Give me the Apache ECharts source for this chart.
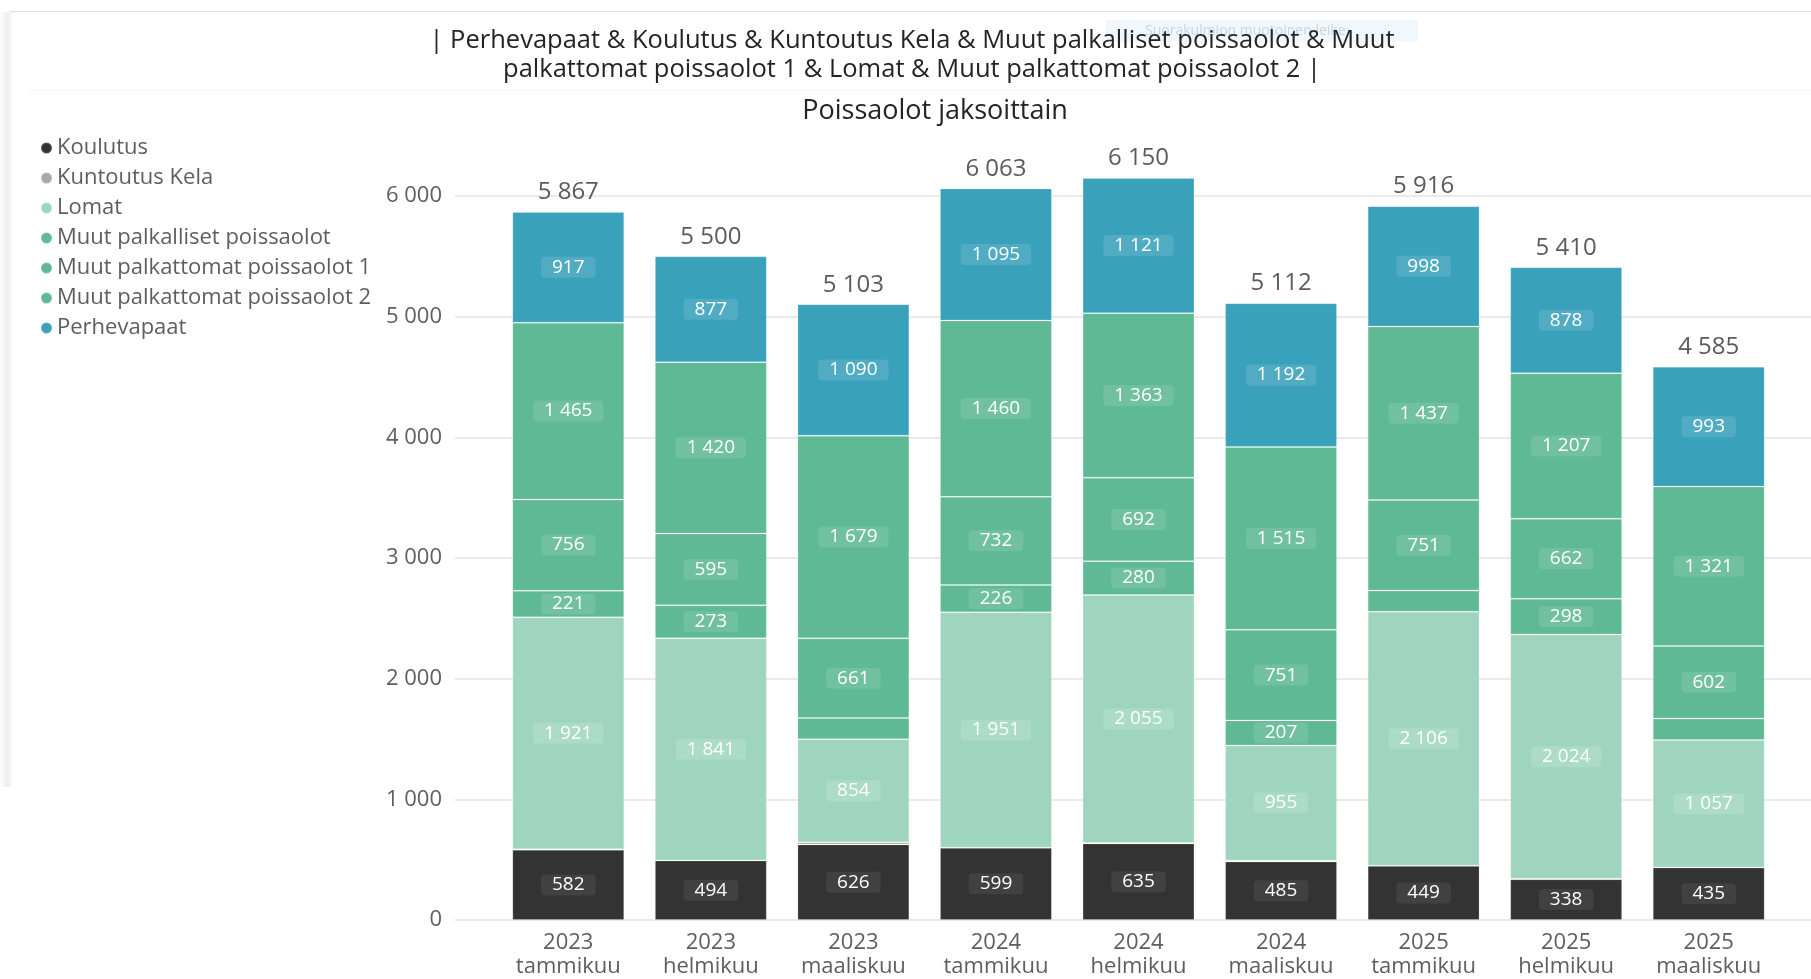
<!DOCTYPE html>
<html>
<head>
<meta charset="utf-8">
<script src="https://cdn.jsdelivr.net/npm/echarts@6/dist/echarts.min.js"></script>
<style>
  html, body { margin: 0; padding: 0; background: #fff; }
  #main { width: 1811px; height: 979px; }
</style>
</head>
<body>
<div id="main"></div>
<script>
// data
var categories = ['2023\ntammikuu', '2023\nhelmikuu', '2023\nmaaliskuu',
                  '2024\ntammikuu', '2024\nhelmikuu', '2024\nmaaliskuu',
                  '2025\ntammikuu', '2025\nhelmikuu', '2025\nmaaliskuu'];
var koulutus     = [582, 494, 626, 599, 635, 485, 449, 338, 435];
var kuntoutus    = [5, 0, 18, 0, 4, 7, 0, 3, 0];
var lomat        = [1921, 1841, 854, 1951, 2055, 955, 2106, 2024, 1057];
var palkalliset  = [221, 273, 175, 226, 280, 207, 175, 298, 177];
var palkattomat1 = [756, 595, 661, 732, 692, 751, 751, 662, 602];
var palkattomat2 = [1465, 1420, 1679, 1460, 1363, 1515, 1437, 1207, 1321];
var perhevapaat  = [917, 877, 1090, 1095, 1121, 1192, 998, 878, 993];
var totals       = [5867, 5500, 5103, 6063, 6150, 5112, 5916, 5410, 4585];
var yTicks       = [0, 1000, 2000, 3000, 4000, 5000, 6000];

var FONT = "'Open Sans', 'Noto Sans', sans-serif";

function fmt(v) {
    return String(v).replace(/\B(?=(\d{3})+(?!\d))/g, ' ');
}

var myChart = echarts.init(document.getElementById('main'));

// one stacked bar series
function stackSeries(name, values, color, labelBg, minShow) {
    return {
        name: name,
        type: 'bar',
        stack: 'all',
        xAxisIndex: 0,
        yAxisIndex: 0,
        clip: false,
        barCategoryGap: '21.5%',
        itemStyle: { color: color, borderColor: 'rgba(255,255,255,0.18)', borderWidth: 1 },
        label: {
            show: true,
            position: 'inside',
            color: '#fff',
            fontFamily: FONT,
            fontSize: 19,
            backgroundColor: labelBg,
            borderRadius: 4,
            padding: [1, 11, 1, 11],
            formatter: function (p) { return fmt(p.value); }
        },
        data: values.map(function (v) {
            return { value: v, label: { show: minShow !== null && v >= minShow } };
        })
    };
}

var option = {
    backgroundColor: '#fff',
    animation: false,
    title: [{
        text: '| Perhevapaat & Koulutus & Kuntoutus Kela & Muut palkalliset poissaolot & Muut\npalkattomat poissaolot 1 & Lomat & Muut palkattomat poissaolot 2 |',
        left: 907,
        top: 21,
        textAlign: 'center',
        textStyle: { fontFamily: FONT, fontSize: 25.5, fontWeight: 'normal', color: '#252423', lineHeight: 29 }
    }, {
        text: 'Poissaolot jaksoittain',
        left: 930,
        top: 93,
        textAlign: 'center',
        textStyle: { fontFamily: FONT, fontSize: 27, fontWeight: 'normal', color: '#252423' }
    }],
    legend: {
        orient: 'vertical',
        left: 40,
        top: 137,
        padding: 0,
        itemWidth: 11,
        itemHeight: 11,
        itemGap: 8,
        icon: 'circle',
        textStyle: { fontFamily: FONT, fontSize: 22, color: '#605E5C', lineHeight: 22 },
        data: ['Koulutus', 'Kuntoutus Kela', 'Lomat', 'Muut palkalliset poissaolot',
               'Muut palkattomat poissaolot 1', 'Muut palkattomat poissaolot 2', 'Perhevapaat']
    },
    grid: [
        { left: 497, right: 31, top: 196, bottom: 59 },   // bars
        { left: 455, right: 0, top: 196, bottom: 59 }     // gridlines + y labels
    ],
    xAxis: [{
        type: 'category',
        gridIndex: 0,
        data: categories,
        axisLine: { show: false },
        axisTick: { show: false },
        axisLabel: { fontFamily: FONT, fontSize: 22, color: '#605E5C', lineHeight: 24, margin: 11 }
    }, {
        type: 'value',
        gridIndex: 1,
        show: false
    }],
    yAxis: [{
        type: 'value',
        gridIndex: 0,
        min: 0, max: 6000, interval: 1000,
        show: false,
        splitLine: { show: false }
    }, {
        type: 'value',
        gridIndex: 1,
        min: yTicks[0], max: yTicks[yTicks.length - 1], interval: 1000,
        axisLine: { show: false },
        axisTick: { show: false },
        splitLine: { lineStyle: { color: '#e3e3e3', width: 1.5 } },
        axisLabel: { fontFamily: FONT, fontSize: 22, color: '#605E5C', margin: 13,
                     formatter: function (v) { return fmt(v); } }
    }],
    graphic: [
        { type: 'rect', shape: { x: 10, y: 11, width: 1801, height: 1 }, style: { fill: '#e2e2e2' } },
        { type: 'rect', shape: { x: 0, y: 12, width: 12, height: 775 },
          style: { fill: new echarts.graphic.LinearGradient(0, 0, 1, 0, [
              { offset: 0, color: '#ffffff' }, { offset: 0.6, color: '#eeeeee' }, { offset: 1, color: '#f8f8f8' }]) } },
        { type: 'rect', shape: { x: 28, y: 90, width: 1783, height: 1 }, style: { fill: '#f7f7f7' } },
        { type: 'rect', shape: { x: 1106, y: 20, width: 312, height: 22 }, style: { fill: '#f1f8fd' } },
        { type: 'text', x: 1145, y: 31, style: { text: 'Suorakulmion muotoinen leike', fontFamily: FONT,
          fontSize: 14, fill: '#cdd4da', verticalAlign: 'middle' } }
    ],
    series: [
        stackSeries('Koulutus', koulutus, '#333333', 'rgba(255,255,255,0.07)', 0),
        stackSeries('Kuntoutus Kela', kuntoutus, '#a8a8a8', 'rgba(255,255,255,0.12)', null),
        stackSeries('Lomat', lomat, '#9fd5bf', 'rgba(255,255,255,0.14)', 200),
        stackSeries('Muut palkalliset poissaolot', palkalliset, '#5eb994', 'rgba(255,255,255,0.12)', 200),
        stackSeries('Muut palkattomat poissaolot 1', palkattomat1, '#5eb994', 'rgba(255,255,255,0.12)', 200),
        stackSeries('Muut palkattomat poissaolot 2', palkattomat2, '#5eb994', 'rgba(255,255,255,0.12)', 200),
        stackSeries('Perhevapaat', perhevapaat, '#3aa1bb', 'rgba(255,255,255,0.12)', 200),
        {
            name: 'Yhteensä',
            type: 'line',
            xAxisIndex: 0,
            yAxisIndex: 0,
            clip: false,
            data: totals,
            symbol: 'circle',
            symbolSize: 1,
            itemStyle: { color: 'rgba(0,0,0,0)' },
            lineStyle: { width: 0, color: 'rgba(0,0,0,0)' },
            silent: true,
            z: 10,
            label: {
                show: true,
                position: 'top',
                distance: 7,
                fontFamily: FONT,
                fontSize: 24,
                color: '#5b5b5b',
                formatter: function (p) { return fmt(p.value); }
            }
        }
    ]
};

myChart.setOption(option);
</script>
</body>
</html>
